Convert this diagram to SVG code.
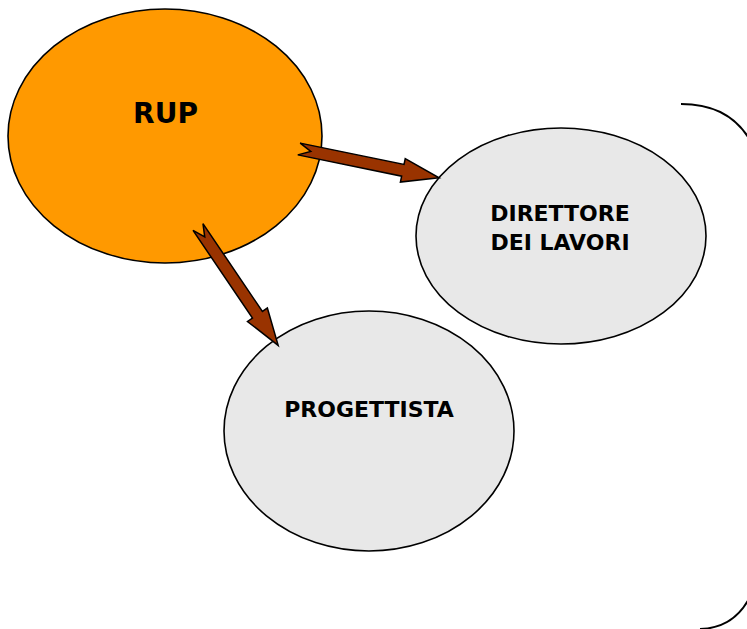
<svg xmlns="http://www.w3.org/2000/svg" width="747" height="629" viewBox="0 0 747 629">
  <style>
    .node { stroke: #000; stroke-width: 1.6; }
    .rup { fill: #FF9900; }
    .role { fill: #E8E8E8; }
    .label { font-family: "DejaVu Sans", Verdana, sans-serif; font-weight: bold; fill: #000; text-anchor: middle; }
    .arrow { fill: #993300; stroke: #000; stroke-width: 1.5; stroke-linejoin: miter; }
    .frame { fill: none; stroke: #000; stroke-width: 2; }
  </style>
  <defs>
    <!-- notched block arrow, tail at origin pointing along +x -->
    <polygon id="blockArrow" points="0,-6 106,-6 106,-12 143,0 106,12 106,6 0,6 12,0"/>
  </defs>

  <rect width="747" height="629" fill="#fff"/>

  <!-- rounded frame edge on the right -->
  <path class="frame" d="M681,104 Q735,104 755,150 L755,585 Q740,628 700,629"/>

  <g id="node-direttore">
    <ellipse class="node role" cx="561" cy="236" rx="145" ry="108"/>
    <text class="label" x="560" y="220.5" font-size="22">DIRETTORE</text>
    <text class="label" x="560" y="250" font-size="22">DEI LAVORI</text>
  </g>

  <g id="node-progettista">
    <ellipse class="node role" cx="369" cy="431" rx="145" ry="120"/>
    <text class="label" x="369" y="416.5" font-size="22">PROGETTISTA</text>
  </g>

  <g id="node-rup">
    <ellipse class="node rup" cx="165" cy="136" rx="157" ry="127"/>
    <text class="label" x="165.5" y="123" font-size="28">RUP</text>
  </g>

  <g id="connectors">
    <use href="#blockArrow" class="arrow" transform="translate(299,149) rotate(11.6)"/>
    <use href="#blockArrow" class="arrow" transform="translate(198,227) rotate(55.9)"/>
  </g>
</svg>
